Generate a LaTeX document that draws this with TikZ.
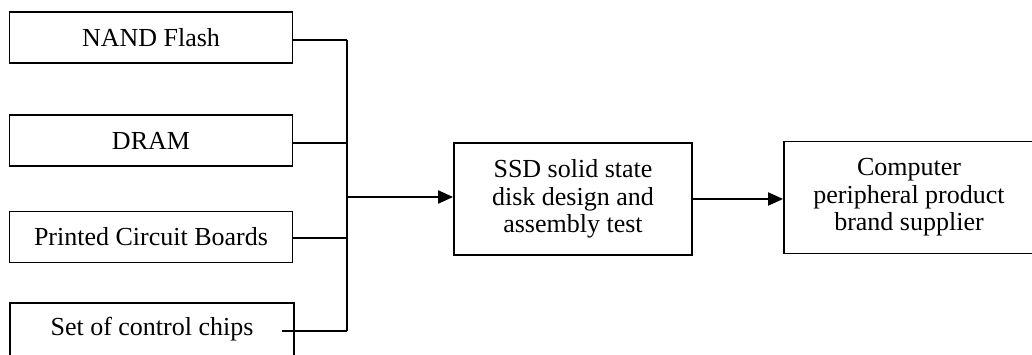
\documentclass[tikz,border=0pt]{standalone}
\usepackage{fontspec}
\setmainfont{Liberation Serif}
\usetikzlibrary{arrows.meta}
\begin{document}
\begin{tikzpicture}[x=1pt,y=-1pt,
  every node/.style={font=\fontsize{26}{27.5}\selectfont},
  srcbox/.style={draw,line width=1.8pt,minimum width=283pt,minimum height=51pt,inner sep=0pt,anchor=center},
  bigbox/.style={draw,line width=1.8pt,inner sep=0pt,align=center,anchor=center},
  wire/.style={line width=2pt},
  arr/.style={line width=2pt,-{Triangle[length=15pt,width=13pt]}}]
\useasboundingbox (0,0) rectangle (1032,354);
\clip (0,0) rectangle (1032,354);
\node[srcbox] (nand) at (151,37.5) {NAND Flash};
\node[srcbox] (dram) at (151,140.5) {DRAM};
\node[srcbox] (pcb) at (151,237) {Printed Circuit Boards};
\node[srcbox,minimum width=284pt,minimum height=53pt] (set) at (152,329.5) {Set of control chips};
\node[bigbox,minimum width=238pt,minimum height=112pt] (ssd) at (573,199) {SSD solid state\\disk design and\\assembly test};
\node[bigbox,minimum width=250pt,minimum height=112pt] (pc) at (909,197.5) {Computer\\peripheral product\\brand supplier};
\coordinate (bustop) at (347,40);
\coordinate (busbot) at (347,331);
\coordinate (junc) at (347,197);
\draw[wire] (bustop) -- (busbot);
\draw[wire] (nand.east |- bustop) -- (bustop);
\draw[wire] (dram.east |- 0,143) -- (347,143);
\draw[wire] (pcb.east |- 0,238) -- (347,238);
\draw[wire] ([xshift=-13pt]set.east |- busbot) -- (busbot);
\draw[arr] (junc) -- (junc -| ssd.west);
\draw[arr] (ssd.east) -- (ssd.east -| pc.west);
\end{tikzpicture}
\end{document}
